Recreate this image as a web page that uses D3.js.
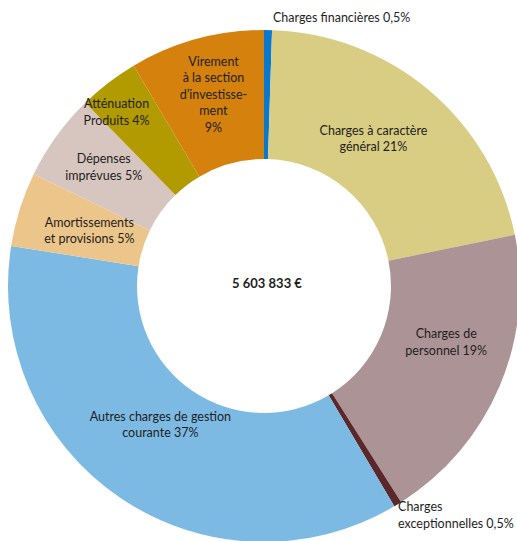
<!DOCTYPE html>
<html>
<head>
<meta charset="utf-8">
<script src="https://cdn.jsdelivr.net/npm/d3@7/dist/d3.min.js"></script>
<style>
  html, body { margin: 0; padding: 0; background: #fff; }
  svg { display: block; }
  text { font-family: Lato, "Open Sans", sans-serif; fill: #1e1e1e; }
</style>
</head>
<body>
<svg id="chart" width="517" height="541"></svg>
<script>
// ---- Data ----
const categories = [
  "Charges financières",
  "Charges à caractère général",
  "Charges de personnel",
  "Charges exceptionnelles",
  "Autres charges de gestion courante",
  "Amortissements et provisions",
  "Dépenses imprévues",
  "Atténuation Produits",
  "Virement à la section d’investissement"
];
const shares = [0.5, 21.3, 19.2, 0.5, 36.0, 4.7, 5.5, 3.8, 8.5];
const labelLines = [
  ["Charges financières 0,5%"],
  ["Charges à caractère", "général 21%"],
  ["Charges de", "personnel 19%"],
  ["Charges", "exceptionnelles 0,5%"],
  ["Autres charges de gestion", "courante 37%"],
  ["Amortissements", "et provisions 5%"],
  ["Dépenses", "imprévues 5%"],
  ["Atténuation", "Produits 4%"],
  ["Virement", "à la section", "d’investisse-", "ment", "9%"]
];
const colors = ["#0A78CC", "#D8CD82", "#AC9496", "#5A272B", "#7DBAE3", "#ECC58A", "#D7C6C0", "#B29B00", "#D4820D"];
const totalLabel = "5 603 833 €";

// ---- Layout ----
const cx = 264, cy = 286, outerR = 256, innerR = 127;
// "c" = centered at ring centroid + offset; "o" = left-aligned at ring centroid + offset
const labelLayout = [
  {mode: "o", dx: 6,   dy: -77},
  {mode: "c", dx: -14, dy: -1},
  {mode: "c", dx: 6,   dy: -19},
  {mode: "o", dx: 34,  dy: 66},
  {mode: "c", dx: 4,   dy: -20},
  {mode: "c", dx: 8,   dy: 2},
  {mode: "c", dx: -5,  dy: -7},
  {mode: "c", dx: -31, dy: -22},
  {mode: "c", dx: 0,   dy: -7}
];
const lineH = 16.5;

const svg = d3.select("#chart");
const g = svg.append("g").attr("transform", `translate(${cx},${cy})`);

const pie = d3.pie().sort(null).value(d => d);
const arcs = pie(shares);
const arc = d3.arc().innerRadius(innerR).outerRadius(outerR);
const midArc = d3.arc().innerRadius((innerR + outerR) / 2).outerRadius((innerR + outerR) / 2);

g.selectAll("path.slice")
  .data(arcs)
  .join("path")
  .attr("class", "slice")
  .attr("d", arc)
  .attr("fill", (d, i) => colors[i]);

arcs.forEach((d, i) => {
  const [mx, my] = midArc.centroid(d);
  const L = labelLayout[i];
  const lines = labelLines[i];
  const x = mx + L.dx, y = my + L.dy;
  const t = g.append("text")
    .attr("font-size", 12.5)
    .attr("text-anchor", L.mode === "c" ? "middle" : "start");
  const startY = y - (lines.length - 1) * lineH / 2;
  lines.forEach((ln, k) => {
    t.append("tspan")
      .attr("x", x)
      .attr("y", startY + k * lineH)
      .attr("dy", "0.35em")
      .text(ln);
  });
});

g.append("text")
  .attr("x", 3).attr("y", -3)
  .attr("dy", "0.35em")
  .attr("text-anchor", "middle")
  .attr("font-size", 13)
  .attr("font-weight", "bold")
  .text(totalLabel);
</script>
</body>
</html>
